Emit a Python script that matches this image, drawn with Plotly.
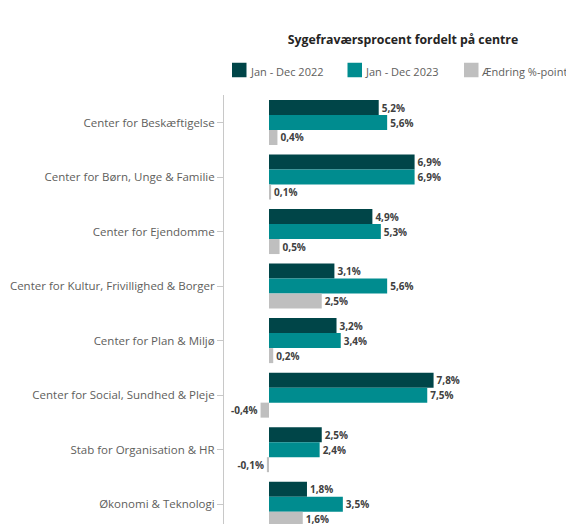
import plotly.graph_objects as go

categories = [
    "Center for Beskæftigelse",
    "Center for Børn, Unge & Familie",
    "Center for Ejendomme",
    "Center for Kultur, Frivillighed & Borger",
    "Center for Plan & Miljø",
    "Center for Social, Sundhed & Pleje",
    "Stab for Organisation & HR",
    "Økonomi & Teknologi",
]
series_names = ["Jan - Dec 2022", "Jan - Dec 2023", "Ændring %-point"]
values_2022 = [5.2, 6.9, 4.9, 3.1, 3.2, 7.8, 2.5, 1.8]
values_2023 = [5.6, 6.9, 5.3, 5.6, 3.4, 7.5, 2.4, 3.5]
values_change = [0.4, 0.1, 0.5, 2.5, 0.2, -0.4, -0.1, 1.6]
colors = ["#004548", "#008C8F", "#BFBFBF"]

# page body has an 8px margin, so the figure is 8px smaller and offset
OFF = 8
W, H = 574 - OFF, 524 - OFF
L, T, B = 224 - OFF, 95 - OFF, 0
plot_w = W - L
plot_h = H - T - B
px_per_unit = 21.1
x0 = -(269 - OFF - L) / px_per_unit
x1 = x0 + plot_w / px_per_unit


def fmt(v):
    return f"{v:.1f}".replace(".", ",") + "%"


fig = go.Figure()
for name, vals, col in zip(series_names, [values_2022, values_2023, values_change], colors):
    fig.add_trace(go.Bar(
        y=categories, x=vals, name=name, orientation="h",
        marker=dict(color=col, line=dict(width=0)),
        text=[fmt(v) for v in vals], textposition="outside",
        textfont=dict(family="Open Sans", size=10, color="#404040", weight="bold"),
        constraintext="none", cliponaxis=False, showlegend=False,
    ))

sp = 54.53
c0 = 122.5 - OFF
c7 = 504.2 - OFF
top_idx = -(c0 - T) / sp
bot_idx = 7 + (H - B - c7) / sp


def px_x(px):
    return (px - OFF - L) / plot_w


def px_y(py):
    return 1 - (py - OFF - T) / plot_h


# custom legend (reference pixel coordinates)
legend_sq_x = [232, 347.5, 464]
legend_tx_x = [247.5, 362.5, 479]
sq = 14.5
ly = 70
shapes = []
annotations = []
for i, (name, col) in enumerate(zip(series_names, colors)):
    shapes.append(dict(type="rect", xref="paper", yref="paper",
                       x0=px_x(legend_sq_x[i]), x1=px_x(legend_sq_x[i] + sq),
                       y0=px_y(ly + sq / 2), y1=px_y(ly - sq / 2),
                       fillcolor=col, line=dict(width=0)))
    annotations.append(dict(text=name, xref="paper", yref="paper",
                            x=px_x(legend_tx_x[i]), y=px_y(ly + 1.5),
                            xanchor="left", yanchor="middle", showarrow=False,
                            font=dict(family="Open Sans", size=11, color="#605E5C")))

fig.update_layout(
    width=W, height=H,
    margin=dict(l=L, r=0, t=T, b=B, pad=0),
    barmode="group", bargap=0.175, bargroupgap=0,
    plot_bgcolor="white", paper_bgcolor="white",
    font=dict(family="Open Sans", color="#605E5C"),
    title=dict(text="<b>Sygefraværsprocent fordelt på centre</b>",
               x=(403 - OFF) / W, xanchor="center", y=1 - (40 - OFF) / H, yanchor="middle",
               font=dict(size=12.3, color="#252423", family="Open Sans")),
    showlegend=False,
    shapes=shapes,
    annotations=annotations,
)
fig.update_xaxes(range=[x0, x1], visible=False, showgrid=False, zeroline=False)
fig.update_yaxes(range=[bot_idx, top_idx], showline=True, linecolor="#C8C8C8", linewidth=1,
                 ticks="outside", ticklen=6, tickcolor="#C8C8C8", tickwidth=1,
                 showgrid=False, automargin=False,
                 tickfont=dict(size=11.5, color="#605E5C", family="Open Sans"))

fig.write_html("out.html")
